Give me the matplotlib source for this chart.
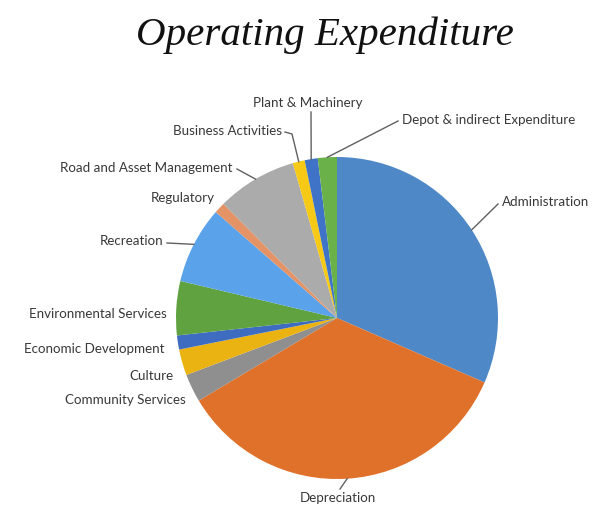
import numpy as np
import matplotlib
matplotlib.use("Agg")
import matplotlib.pyplot as plt

# parts of operating expenditure (%), clockwise from 12 o'clock
categories = ["Administration", "Depreciation", "Community Services", "Culture",
              "Economic Development", "Environmental Services", "Recreation",
              "Regulatory", "Road and Asset Management", "Business Activities",
              "Plant & Machinery", "Depot & indirect Expenditure"]
values = [31.4, 34.7, 2.8, 2.6, 1.4, 5.4, 7.7, 1.1, 8.0, 1.2, 1.3, 1.9]
colors = ["#4f88c6", "#e0712a", "#8f8f8f", "#eab312", "#3d6cc0", "#5fa23f",
          "#5aa2ea", "#e39365", "#ababab", "#f5c916", "#3f73c8", "#6ab14a"]

# where the labels sit (image pixels: x, y from top), alignment, leader elbow
label_pos = {
    "Administration": (502, 202, "left", [(498, 204)]),
    "Depreciation": (338, 498, "center", [(340, 489)]),
    "Community Services": (186, 400, "right", None),
    "Culture": (173, 376, "right", None),
    "Economic Development": (165, 349, "right", None),
    "Environmental Services": (167, 314, "right", None),
    "Recreation": (163, 241, "right", [(167, 243)]),
    "Regulatory": (215, 198, "right", None),
    "Road and Asset Management": (232, 168, "right", [(237, 169)]),
    "Business Activities": (282, 131, "right", [(292, 134), (285, 132)]),
    "Plant & Machinery": (308, 103, "center", [(311, 112)]),
    "Depot & indirect Expenditure": (402, 120, "left", [(398, 121)]),
}

W, H = 598, 509
cx, cy, r = 337, 318, 161

fig = plt.figure(figsize=(W / 100, H / 100), dpi=100)
ax = fig.add_axes([0, 0, 1, 1])
wedges, _ = ax.pie(values, colors=colors, startangle=90, counterclock=False,
                   center=(cx, H - cy), radius=r, wedgeprops=dict(linewidth=0))
ax.set_xlim(0, W)
ax.set_ylim(0, H)
ax.set_aspect("equal")
ax.axis("off")

for w, name in zip(wedges, categories):
    tx, ty, ha, elbow = label_pos[name]
    ax.text(tx, H - ty, name, ha=ha, va="center", fontsize=9.6, family="Lato",
            color="#383838")
    if elbow:
        mid = np.deg2rad((w.theta1 + w.theta2) / 2)
        xs = [cx + r * np.cos(mid)] + [p[0] for p in elbow]
        ys = [H - cy + r * np.sin(mid)] + [H - p[1] for p in elbow]
        ax.plot(xs, ys, color="#606060", lw=1.0)

fig.text(325 / W, 1 - 35 / H, "Operating Expenditure", ha="center", va="center",
         fontsize=29.5, family="Liberation Serif", style="italic", color="#111111")

fig.savefig("out.png", dpi=100, facecolor="white")
